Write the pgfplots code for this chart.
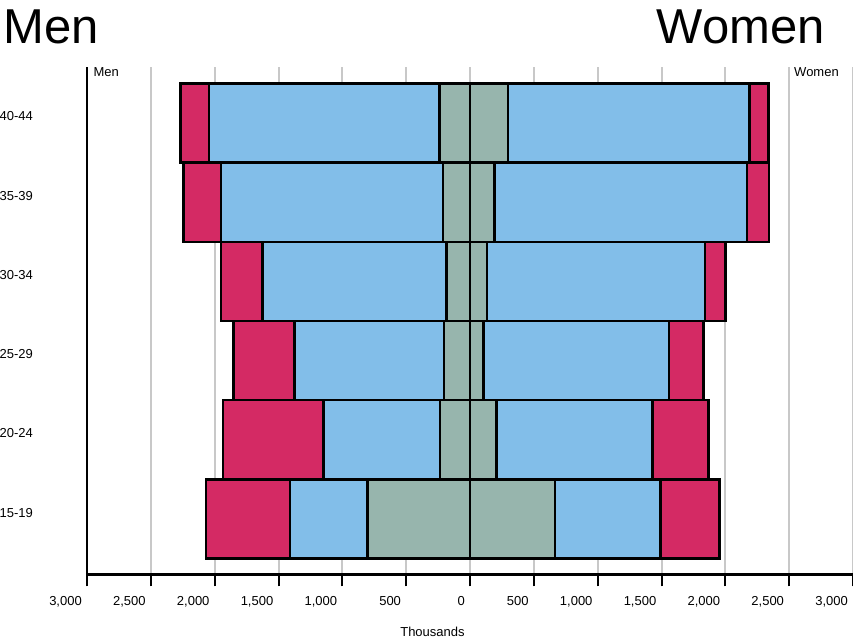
\documentclass[border=0pt]{standalone}
\usepackage{fontspec}
\setmainfont{Liberation Sans}
\usepackage{pgfplots}
\pgfplotsset{compat=1.18}
\usepackage{pgfplotstable}

\definecolor{cpink}{RGB}{212,42,100}
\definecolor{cblue}{RGB}{130,190,233}
\definecolor{cgrey}{RGB}{151,181,173}
\definecolor{cgrid}{RGB}{200,200,200}

% cumulative bar ends (thousands): grey, grey+blue, total
\pgfplotstableread{
idx mgrey mblue mtotal wgrey wblue wtotal
0   801   1410  2068   666   1494  1953
1   235   1149  1935   209   1431  1867
2   204   1373  1851   104   1559  1828
3   185   1626  1950   133   1841  2003
4   211   1950  2243   193   2170  2342
5   237   2044  2268   298   2191  2340
}\data

\begin{document}
\begin{tikzpicture}
\begin{axis}[
  at={(0,0)}, anchor=south west,
  scale only axis, width=766pt, height=507pt,
  xmin=-3000, xmax=3000, ymin=-0.7, ymax=5.7,
  axis x line=bottom, axis y line=left,
  axis line style={-, line width=2.5pt, black},
  xtick={-3000,-2500,...,3000},
  xticklabel={\pgfmathparse{abs(\tick)}\pgfmathprintnumber[assume math mode=true]{\pgfmathresult}},
  tick align=outside, major tick length=12pt,
  xtick style={black, line width=2pt},
  ytick={0,...,5},
  yticklabels={15-19,20-24,25-29,30-34,35-39,40-44},
  ytick style={draw=none},
  xmajorgrids, grid style={cgrid, line width=2pt},
  tick label style={font=\fontsize{13}{15}\selectfont, inner sep=0pt},
  xticklabel style={anchor=north east, xshift=-5pt, yshift=-10pt},
  yticklabel style={anchor=east, xshift=-42pt, yshift=6.5pt},
  xlabel={Thousands},
  xlabel style={font=\fontsize{13}{15}\selectfont, inner sep=0pt, at={(axis description cs:0.451,0)}, anchor=center, yshift=-57pt},
  xbar, bar width=1,
  every axis plot/.append style={bar shift=0pt, draw=black, line width=2.5pt, line join=miter},
]
\addplot[fill=cpink] table[x expr=-\thisrow{mtotal}, y=idx]{\data};
\addplot[fill=cblue] table[x expr=-\thisrow{mblue}, y=idx]{\data};
\addplot[fill=cgrey] table[x expr=-\thisrow{mgrey}, y=idx]{\data};
\addplot[fill=cpink] table[x=wtotal, y=idx]{\data};
\addplot[fill=cblue] table[x=wblue, y=idx]{\data};
\addplot[fill=cgrey] table[x=wgrey, y=idx]{\data};
\end{axis}
\node[anchor=base west, inner sep=0pt, font=\fontsize{49}{55}\selectfont] at (-84pt,531.3pt) {Men};
\node[anchor=base east, inner sep=0pt, font=\fontsize{49}{55}\selectfont] at (738.1pt,531.3pt) {Women};
\node[anchor=base west, inner sep=0pt, font=\fontsize{13}{15}\selectfont] at (6.3pt,498pt) {Men};
\node[anchor=base west, inner sep=0pt, font=\fontsize{13}{15}\selectfont] at (707pt,498pt) {Women};
\pgfresetboundingbox
\path[use as bounding box] (-87pt,-64.5pt) rectangle (766pt,574.5pt);
\end{tikzpicture}
\end{document}
